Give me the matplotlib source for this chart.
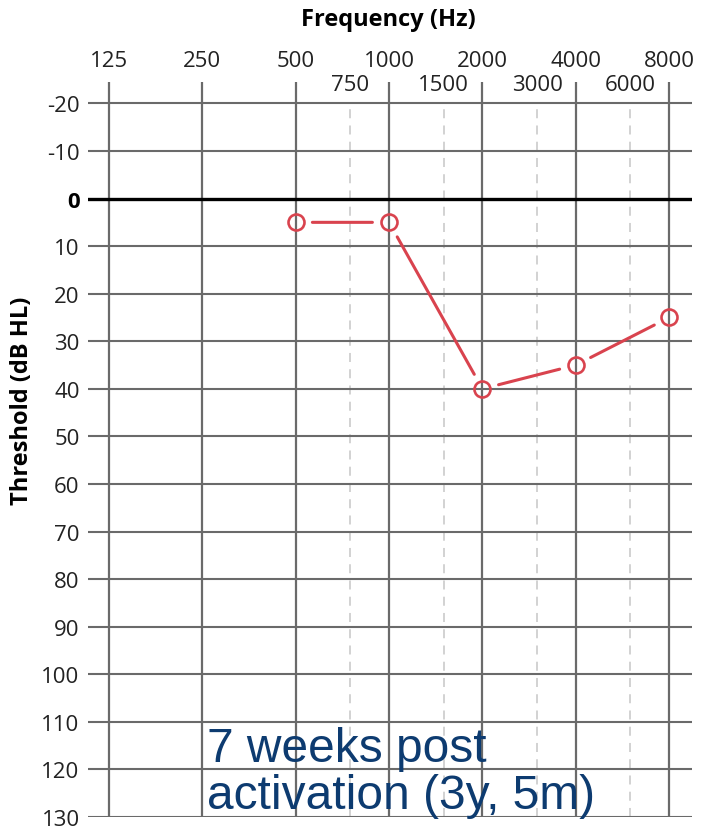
import numpy as np
import matplotlib.pyplot as plt

FREQS = [500, 1000, 2000, 4000, 8000]
THRESHOLDS = [5, 5, 40, 35, 25]
MAJOR_FREQS = [125, 250, 500, 1000, 2000, 4000, 8000]
MINOR_FREQS = [750, 1500, 3000, 6000]
DB_TICKS = list(range(-20, 131, 10))
NOTE = "7 weeks post\nactivation (3y, 5m)"

RED = "#d9434e"
GRID = "#6a6a6a"
TXT = "#222222"
plt.rcParams["font.family"] = ["Open Sans", "DejaVu Sans"]

fig = plt.figure(figsize=(7.02, 8.28), dpi=100)
ax = fig.add_axes([88 / 702, 1 - 818 / 828, 604 / 702, (818 - 83) / 828])

lx = np.log2(MAJOR_FREQS)
ax.set_xlim(lx[0] - 0.225, lx[-1] + 0.245)
ax.set_ylim(130, -24.5)

for s in ax.spines.values():
    s.set_visible(False)
ax.tick_params(length=0)
ax.set_xticks([])
ax.set_yticks(DB_TICKS)
ax.set_yticklabels([str(v) for v in DB_TICKS], fontsize=16, color=TXT)
ax.tick_params(axis="y", pad=6)
for lab in ax.get_yticklabels():
    if lab.get_text() == "0":
        lab.set_fontweight("bold")
        lab.set_color("black")

# horizontal grid
for v in DB_TICKS:
    if v == 0:
        ax.axhline(v, color="black", lw=2.4, zorder=2)
    else:
        ax.axhline(v, color=GRID, lw=1.5, zorder=1)

# vertical grid
for f in MAJOR_FREQS:
    ax.plot([np.log2(f)] * 2, [130, -24.5], color=GRID, lw=1.6, zorder=1,
            solid_capstyle="butt")
for f in MINOR_FREQS:
    ax.plot([np.log2(f)] * 2, [130, -20], color="#cfcfcf", lw=1.3,
            ls=(0, (5, 4)), zorder=0.5)

# frequency labels on top
for f in MAJOR_FREQS:
    ax.text(np.log2(f), 1.0286, str(f), transform=ax.get_xaxis_transform(),
            ha="center", va="center", fontsize=16, color=TXT)
for f in MINOR_FREQS:
    ax.text(np.log2(f), 0.997, str(f), transform=ax.get_xaxis_transform(),
            ha="center", va="center", fontsize=16, color=TXT)

fig.text(388 / 702, 1 - 20 / 828, "Frequency (Hz)", ha="center", va="center",
         fontsize=17, fontweight="bold")
fig.text(22 / 702, 1 - 401 / 828, "Threshold (dB HL)", ha="center", va="center",
         rotation=90, fontsize=17, fontweight="bold")

# audiogram line with gaps around markers
xs = np.log2(FREQS)
for i in range(len(xs) - 1):
    ax.annotate("", xy=(xs[i + 1], THRESHOLDS[i + 1]), xytext=(xs[i], THRESHOLDS[i]),
                arrowprops=dict(arrowstyle="-", color=RED, lw=2.2,
                                shrinkA=12, shrinkB=12), zorder=3)
ax.plot(xs, THRESHOLDS, ls="none", marker="o", ms=11.5, mfc="none",
        mec=RED, mew=1.9, zorder=4)

ax.text(207 / 702, 1 - 809 / 828, NOTE, transform=fig.transFigure,
        fontsize=34.5, color="#0d3b70", family="Liberation Sans",
        ha="left", va="baseline", linespacing=1.05)

fig.savefig("out.png", dpi=100)
